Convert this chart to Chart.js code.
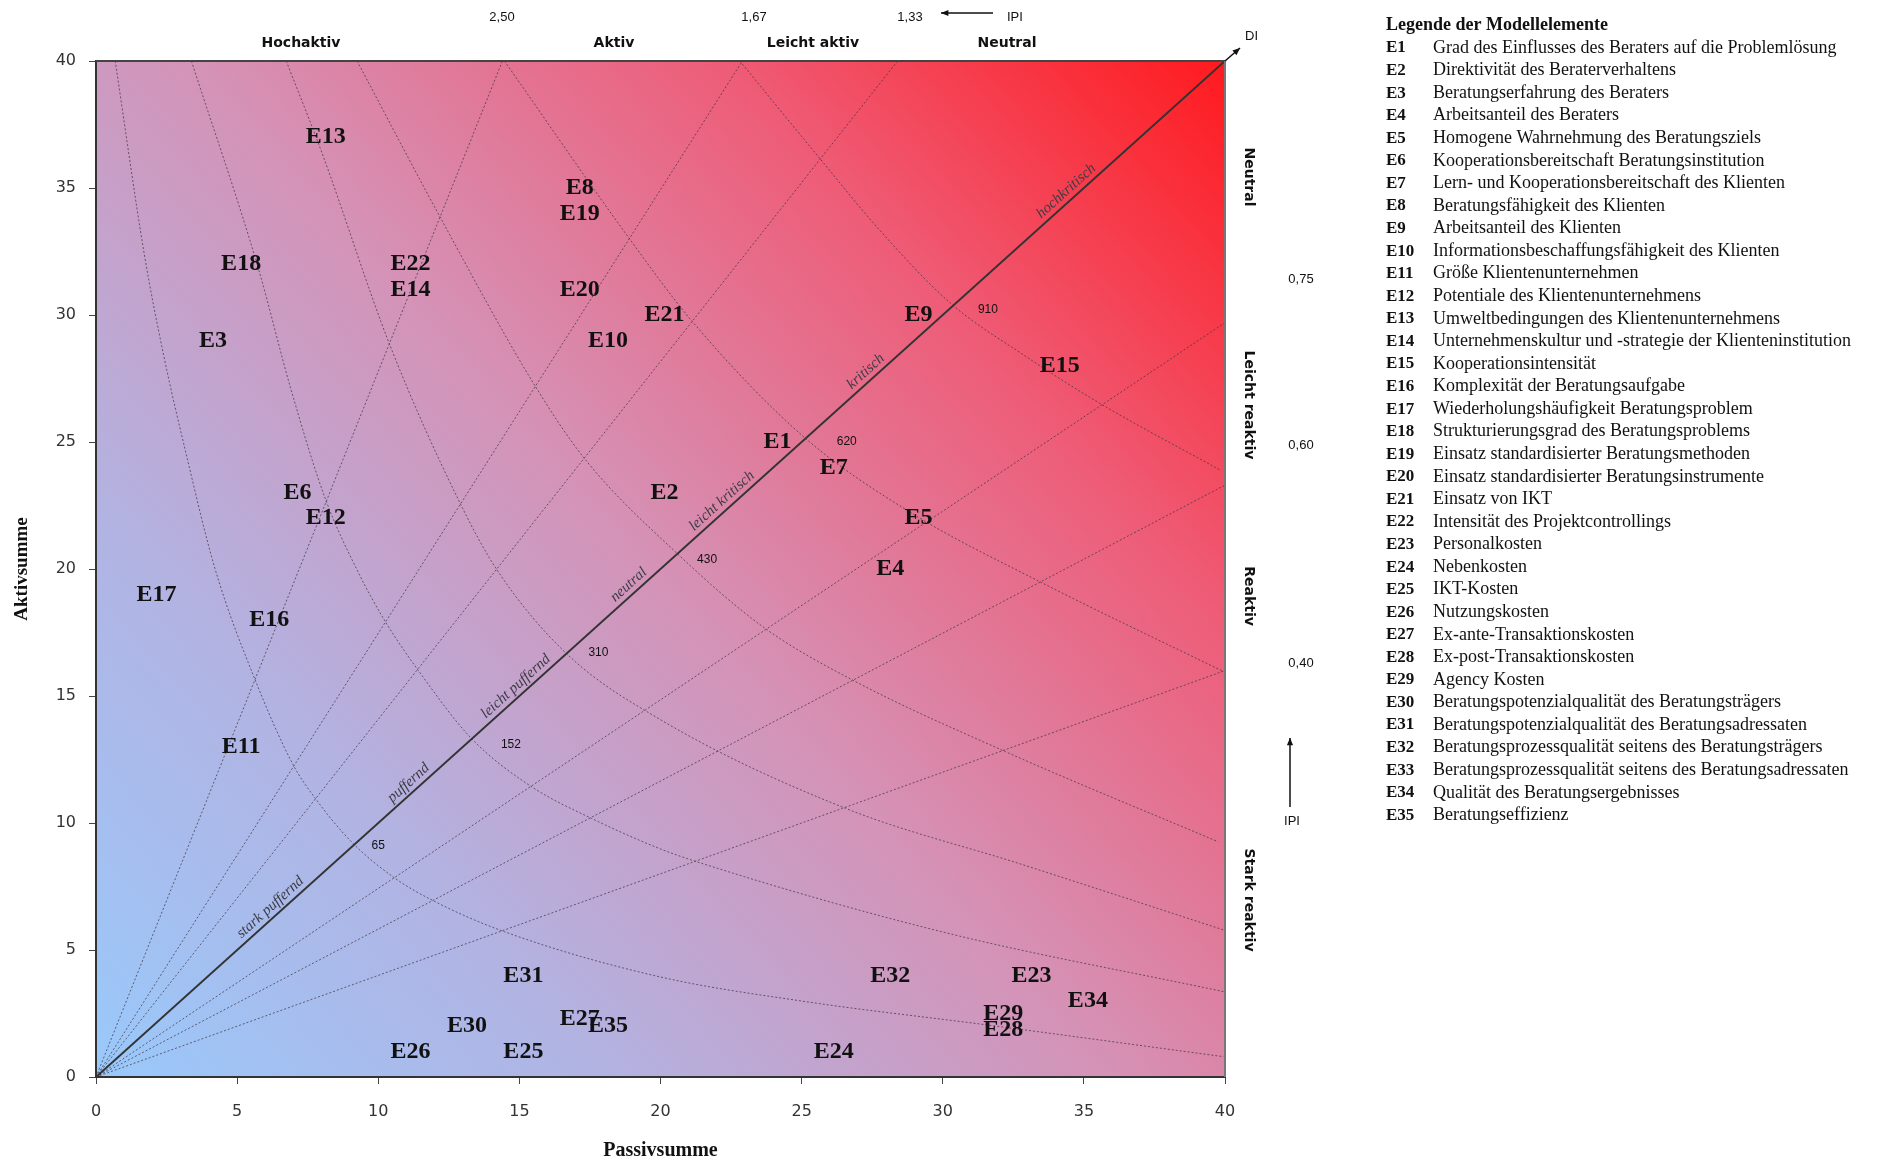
<!DOCTYPE html>
<html lang="de">
<head>
<meta charset="utf-8">
<title>Rollenverteilung der Modellelemente</title>
<script src="https://cdn.jsdelivr.net/npm/chart.js@4.4.1/dist/chart.umd.min.js"></script>
<style>
  html, body { margin: 0; padding: 0; background: #fff; }
  #wrap { width: 1887px; height: 1164px; }
</style>
</head>
<body>
<div id="wrap"><canvas id="rollen" width="1887" height="1164"></canvas></div>
<script>
// Modellelemente: Passivsumme (x) und Aktivsumme (y)
var elemente = ['E1', 'E2', 'E3', 'E4', 'E5', 'E6', 'E7', 'E8', 'E9', 'E10', 'E11', 'E12',
  'E13', 'E14', 'E15', 'E16', 'E17', 'E18', 'E19', 'E20', 'E21', 'E22', 'E23', 'E24',
  'E25', 'E26', 'E27', 'E28', 'E29', 'E30', 'E31', 'E32', 'E34', 'E35'];
var passiv = [24, 20, 4, 28, 29, 7, 26, 17, 29, 18, 5, 8,
  8, 11, 34, 6, 2, 5, 17, 17, 20, 11, 33, 26,
  15, 11, 17, 32, 32, 13, 15, 28, 35, 18];
var aktiv = [25, 23, 29, 20, 22, 23, 24, 35, 30, 29, 13, 22,
  37, 31, 28, 18, 19, 32, 34, 31, 30, 32, 4, 1,
  1, 1, 2.3, 1.85, 2.5, 2, 4, 4, 3, 2];

var achsenTicks = [0, 5, 10, 15, 20, 25, 30, 35, 40];

// Strahlen konstanter IPI (Aktiv/Passiv), Endpunkte am Rand
var strahlX = [14.4, 22.9, 28.4, 40, 40, 40];
var strahlY = [40, 40, 40, 29.7, 23.3, 16.0];
var ipiOben = ['2,50', '1,67', '1,33'];
var ipiRechts = ['0,75', '0,60', '0,40'];

// Kurven konstanter DI (Aktiv x Passiv)
var diWerte = [65, 152, 310, 430, 620, 910];
var di65X = [0.68, 1.71, 2.4, 3.2, 4.22, 5.64, 6.99, 7.77, 9.05, 10.6, 12.02, 14.47, 19.95, 25.13, 31.57, 39.95];
var di65Y = [40, 32.4, 28.4, 24.5, 20.0, 15.63, 12.28, 10.97, 9.26, 7.82, 6.9, 5.72, 3.95, 2.97, 2.05, 0.8];
var di152X = [3.38, 5.75, 6.9, 8.12, 9.25, 10.25, 11.45, 13.3, 15.43, 17.56, 19.95, 21.27, 29.96, 39.95];
var di152Y = [40, 31.84, 27.1, 22.78, 19.96, 17.93, 15.96, 13.33, 11.43, 10.18, 9.0, 8.48, 5.72, 3.36];
var di310X = [6.74, 8.0, 10.41, 12.9, 14.21, 16.66, 19.95, 26.55, 32.86, 39.95];
var di310Y = [40, 36.4, 28.82, 22.59, 19.96, 16.68, 14.1, 10.58, 8.35, 5.79];
var di430X = [9.25, 12.15, 15.5, 17.3, 20.6, 23.71, 26.8, 32.22, 39.76];
var di430Y = [40, 33.94, 27.31, 24.36, 20.6, 17.66, 15.63, 12.81, 9.26];
var di620X = [14.47, 18.85, 21.13, 25.13, 29.0, 33.44, 39.95];
var di620Y = [40, 33.08, 29.74, 25.15, 22.13, 19.5, 15.96];
var di910X = [22.81, 25.64, 27.71, 30.28, 32.86, 35.57, 39.82];
var di910Y = [40, 36.17, 33.41, 30.46, 28.43, 26.52, 23.9];

var diagonalText = ['stark puffernd', 'puffernd', 'leicht puffernd', 'neutral', 'leicht kritisch', 'kritisch', 'hochkritisch'];
var rollenOben = ['Hochaktiv', 'Aktiv', 'Leicht aktiv', 'Neutral'];
var rollenRechts = ['Neutral', 'Leicht reaktiv', 'Reaktiv', 'Stark reaktiv'];

var legendeTitel = 'Legende der Modellelemente';
var legendeText = [
  'Grad des Einflusses des Beraters auf die Problemlösung',
  'Direktivität des Beraterverhaltens',
  'Beratungserfahrung des Beraters',
  'Arbeitsanteil des Beraters',
  'Homogene Wahrnehmung des Beratungsziels',
  'Kooperationsbereitschaft Beratungsinstitution',
  'Lern- und Kooperationsbereitschaft des Klienten',
  'Beratungsfähigkeit des Klienten',
  'Arbeitsanteil des Klienten',
  'Informationsbeschaffungsfähigkeit des Klienten',
  'Größe Klientenunternehmen',
  'Potentiale des Klientenunternehmens',
  'Umweltbedingungen des Klientenunternehmens',
  'Unternehmenskultur und -strategie der Klienteninstitution',
  'Kooperationsintensität',
  'Komplexität der Beratungsaufgabe',
  'Wiederholungshäufigkeit Beratungsproblem',
  'Strukturierungsgrad des Beratungsproblems',
  'Einsatz standardisierter Beratungsmethoden',
  'Einsatz standardisierter Beratungsinstrumente',
  'Einsatz von IKT',
  'Intensität des Projektcontrollings',
  'Personalkosten',
  'Nebenkosten',
  'IKT-Kosten',
  'Nutzungskosten',
  'Ex-ante-Transaktionskosten',
  'Ex-post-Transaktionskosten',
  'Agency Kosten',
  'Beratungspotenzialqualität des Beratungsträgers',
  'Beratungspotenzialqualität des Beratungsadressaten',
  'Beratungsprozessqualität seitens des Beratungsträgers',
  'Beratungsprozessqualität seitens des Beratungsadressaten',
  'Qualität des Beratungsergebnisses',
  'Beratungseffizienz'
];

var hilfslinie = 'rgba(60,45,60,0.7)';

function punkte(xs, ys) {
  return xs.map(function (x, i) { return { x: x, y: ys[i] }; });
}

var datensaetze = [];

// Strahlen vom Ursprung
strahlX.forEach(function (x, i) {
  datensaetze.push({
    data: [{ x: 0, y: 0 }, { x: x, y: strahlY[i] }],
    showLine: true, borderColor: hilfslinie, borderWidth: 1, borderDash: [2, 2], pointRadius: 0
  });
});

// DI-Kurven
[[di65X, di65Y], [di152X, di152Y], [di310X, di310Y], [di430X, di430Y], [di620X, di620Y], [di910X, di910Y]]
  .forEach(function (k) {
    datensaetze.push({
      data: punkte(k[0], k[1]),
      showLine: true, borderColor: hilfslinie, borderWidth: 1, borderDash: [2, 2], pointRadius: 0,
      cubicInterpolationMode: 'monotone'
    });
  });

// Diagonale
datensaetze.push({
  data: [{ x: 0, y: 0 }, { x: 40, y: 40 }],
  showLine: true, borderColor: '#333', borderWidth: 2, pointRadius: 0
});

// Elemente (nur beschriftet, ohne Marker)
datensaetze.push({ data: punkte(passiv, aktiv), pointRadius: 0, showLine: false });
var elementIndex = datensaetze.length - 1;

function pfeil(c, x1, y1, x2, y2) {
  c.beginPath(); c.moveTo(x1, y1); c.lineTo(x2, y2); c.stroke();
  var a = Math.atan2(y2 - y1, x2 - x1);
  c.beginPath();
  c.moveTo(x2, y2);
  c.lineTo(x2 - 8 * Math.cos(a - 0.4), y2 - 8 * Math.sin(a - 0.4));
  c.lineTo(x2 - 8 * Math.cos(a + 0.4), y2 - 8 * Math.sin(a + 0.4));
  c.closePath(); c.fill();
}

var hintergrund = {
  id: 'hintergrund',
  beforeDraw: function (chart) {
    var a = chart.chartArea, c = chart.ctx;
    var g = c.createLinearGradient(a.left, a.bottom, a.right, a.top);
    g.addColorStop(0, '#99c9fb');
    g.addColorStop(0.25, '#b2b3e2');
    g.addColorStop(0.5, '#d592b6');
    g.addColorStop(0.75, '#ee5d78');
    g.addColorStop(1, '#ff1a1e');
    c.save();
    c.fillStyle = g;
    c.fillRect(a.left, a.top, a.right - a.left, a.bottom - a.top);
    c.restore();
  }
};

var beschriftung = {
  id: 'beschriftung',
  afterDatasetsDraw: function (chart) {
    var c = chart.ctx, sx = chart.scales.x, sy = chart.scales.y;
    c.save();

    // Elementnamen
    c.font = 'bold 24px "Liberation Serif"';
    c.fillStyle = '#111';
    c.textAlign = 'center';
    c.textBaseline = 'middle';
    chart.getDatasetMeta(elementIndex).data.forEach(function (p, i) {
      c.fillText(elemente[i], p.x + 4, p.y);
    });

    // Texte entlang der Diagonale
    var winkel = Math.atan2(sy.getPixelForValue(40) - sy.getPixelForValue(0), sx.getPixelForValue(40) - sx.getPixelForValue(0));
    var lagen = [6.4, 11.3, 15.1, 19.1, 22.4, 27.5, 34.6];
    c.font = 'italic 15px "Liberation Serif"';
    c.fillStyle = '#3c3c46';
    c.textBaseline = 'bottom';
    diagonalText.forEach(function (t, i) {
      c.save();
      c.translate(sx.getPixelForValue(lagen[i]), sy.getPixelForValue(lagen[i]));
      c.rotate(winkel);
      c.fillText(t, 0, -2);
      c.restore();
    });

    // DI-Werte an den Schnittpunkten
    var diPos = [[10.0, 9.1], [14.7, 13.1], [17.8, 16.7], [21.65, 20.35], [26.6, 25.0], [31.6, 30.2]];
    c.font = '12px "Liberation Sans"';
    c.fillStyle = '#111';
    c.textBaseline = 'middle';
    diWerte.forEach(function (v, i) {
      c.fillText(String(v), sx.getPixelForValue(diPos[i][0]), sy.getPixelForValue(diPos[i][1]));
    });
    c.restore();
  },
  afterDraw: function (chart) {
    var c = chart.ctx, a = chart.chartArea;
    c.save();

    // Rahmen oben und rechts
    c.strokeStyle = '#444';
    c.lineWidth = 2;
    c.beginPath(); c.moveTo(a.left, a.top); c.lineTo(a.right, a.top); c.stroke();
    c.strokeStyle = '#777';
    c.beginPath(); c.moveTo(a.right, a.top); c.lineTo(a.right, a.bottom); c.stroke();

    c.fillStyle = '#111';
    c.strokeStyle = '#111';
    c.lineWidth = 1.5;

    // DI-Pfeil
    pfeil(c, a.right, a.top, 1240, 48);
    c.font = '13px "Liberation Sans"';
    c.textAlign = 'left';
    c.textBaseline = 'middle';
    c.fillText('DI', 1245, 36);

    // IPI oben
    var ipiX = [502, 754, 910];
    c.textAlign = 'center';
    ipiOben.forEach(function (t, i) { c.fillText(t, ipiX[i], 17); });
    pfeil(c, 993, 13, 941, 13);
    c.textAlign = 'left';
    c.fillText('IPI', 1007, 17);

    // IPI rechts
    var ipiY = [279, 445, 663];
    c.textAlign = 'center';
    ipiRechts.forEach(function (t, i) { c.fillText(t, 1301, ipiY[i]); });
    pfeil(c, 1290, 807, 1290, 738);
    c.fillText('IPI', 1292, 821);

    // Rollenbereiche
    c.font = 'bold 14px "DejaVu Sans"';
    var obenX = [301, 614, 813, 1007];
    rollenOben.forEach(function (t, i) { c.fillText(t, obenX[i], 43); });
    var rechtsY = [177, 405, 596, 900];
    rollenRechts.forEach(function (t, i) {
      c.save();
      c.translate(1249, rechtsY[i]);
      c.rotate(Math.PI / 2);
      c.fillText(t, 0, 0);
      c.restore();
    });

    // Legende
    c.textAlign = 'left';
    c.font = 'bold 18px "Liberation Serif"';
    c.fillText(legendeTitel, 1386, 25);
    legendeText.forEach(function (t, i) {
      var y = 48 + i * 22.57;
      c.font = 'bold 17px "Liberation Serif"';
      c.fillText('E' + (i + 1), 1386, y);
      c.font = '18px "Liberation Serif"';
      c.fillText(t, 1433, y);
    });
    c.restore();
  }
};

var chart = new Chart(document.getElementById('rollen').getContext('2d'), {
  type: 'scatter',
  data: { datasets: datensaetze },
  options: {
    responsive: false,
    animation: false,
    devicePixelRatio: 1,
    layout: { padding: { top: 61, right: 662, left: 0, bottom: 0 } },
    plugins: { legend: { display: false }, tooltip: { enabled: false } },
    scales: {
      x: {
        type: 'linear', min: 0, max: 40,
        afterBuildTicks: function (s) { s.ticks = achsenTicks.map(function (v) { return { value: v }; }); },
        afterFit: function (s) { s.height = 87; },
        grid: { drawOnChartArea: false, tickLength: 7, color: '#444' },
        border: { color: '#333', width: 2 },
        ticks: { font: { family: 'DejaVu Sans', size: 16 }, color: '#333', padding: 18, maxRotation: 0 },
        title: { display: true, text: 'Passivsumme', font: { family: 'Liberation Serif', size: 20, weight: 'bold' }, color: '#111', padding: { top: 0, bottom: 1 } }
      },
      y: {
        type: 'linear', min: 0, max: 40,
        afterBuildTicks: function (s) { s.ticks = achsenTicks.map(function (v) { return { value: v }; }); },
        afterFit: function (s) { s.width = 96; },
        grid: { drawOnChartArea: false, tickLength: 7, color: '#444' },
        border: { color: '#333', width: 2 },
        ticks: { font: { family: 'DejaVu Sans', size: 16 }, color: '#333', padding: 13 },
        title: { display: true, text: 'Aktivsumme', font: { family: 'Liberation Serif', size: 19, weight: 'bold' }, color: '#111', padding: { top: 11, bottom: 0 } }
      }
    }
  },
  plugins: [hintergrund, beschriftung]
});
</script>
</body>
</html>
